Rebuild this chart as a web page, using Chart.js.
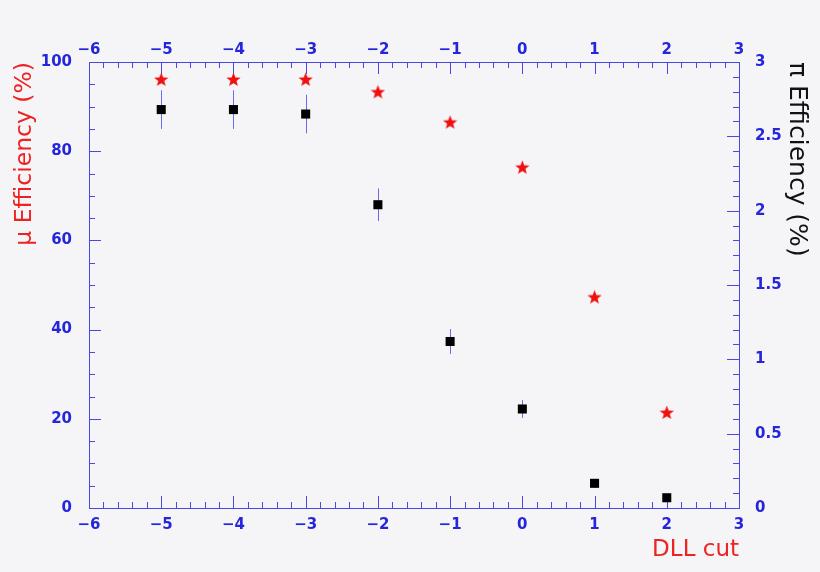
<!DOCTYPE html>
<html>
<head>
<meta charset="utf-8">
<script src="https://cdn.jsdelivr.net/npm/chart.js@4/dist/chart.umd.min.js"></script>
<style>
  html, body { margin: 0; padding: 0; background: #f5f5f7; }
  #wrap { width: 820px; height: 572px; }
</style>
</head>
<body>
<div id="wrap"><canvas id="chart" width="820" height="572"></canvas></div>
<script>
/* DATA */
const dllCuts = [-5, -4, -3, -2, -1, 0, 1, 2];
const muEff = [96.1, 96.1, 96.1, 93.3, 86.5, 76.4, 47.3, 21.4];
const piEff = [2.68, 2.68, 2.65, 2.04, 1.12, 0.666, 0.166, 0.069];
const piErr = [0.13, 0.13, 0.13, 0.11, 0.084, 0.06, 0.03, 0.02];

const AXIS = "#4848e6";
const LABEL = "#2525dc";
const FONT = "DejaVu Sans";

/* filled 5 pointed star as point style */
function makeStar(size, color) {
  const c = document.createElement("canvas");
  c.width = size; c.height = size;
  const g = c.getContext("2d");
  const cx = size / 2, cy = size / 2 + 0.5, R = size / 2, r = R * 0.42;
  g.beginPath();
  for (let i = 0; i < 10; i++) {
    const a = -Math.PI / 2 + i * Math.PI / 5;
    const rr = i % 2 ? r : R;
    g.lineTo(cx + rr * Math.cos(a), cy + rr * Math.sin(a));
  }
  g.closePath();
  g.fillStyle = color;
  g.fill();
  return c;
}
const star = makeStar(15, "#f01010");

const fmt = v => (v < 0 ? "\u2212" + Math.abs(v) : String(v));

/* background */
const bgPlugin = {
  id: "bg",
  beforeDraw(chart) {
    const ctx = chart.ctx;
    ctx.save();
    ctx.fillStyle = "#f5f5f7";
    ctx.fillRect(0, 0, chart.width, chart.height);
    ctx.restore();
  }
};

/* frame + inward ticks, ROOT style */
const framePlugin = {
  id: "frame",
  beforeDatasetsDraw(chart) {
    const { ctx, chartArea: a, scales } = chart;
    ctx.save();
    ctx.strokeStyle = AXIS;
    ctx.lineWidth = 1;
    ctx.strokeRect(a.left + 0.5, a.top + 0.5, a.right - a.left, a.bottom - a.top);

    ctx.beginPath();
    // x ticks, bottom and top
    for (let i = 0; i <= 45; i++) {
      const v = -6 + i * 0.2;
      const px = Math.round(scales.x.getPixelForValue(v)) + 0.5;
      const len = i % 5 === 0 ? 12 : 6;
      ctx.moveTo(px, a.bottom); ctx.lineTo(px, a.bottom - len);
      ctx.moveTo(px, a.top); ctx.lineTo(px, a.top + len);
    }
    // left y ticks
    for (let i = 0; i <= 20; i++) {
      const py = Math.round(scales.y.getPixelForValue(i * 5)) + 0.5;
      const len = i % 4 === 0 ? 12 : 6;
      ctx.moveTo(a.left, py); ctx.lineTo(a.left + len, py);
    }
    // right y ticks
    for (let i = 0; i <= 30; i++) {
      const py = Math.round(scales.y2.getPixelForValue(i * 0.1)) + 0.5;
      const len = i % 5 === 0 ? 12 : 6;
      ctx.moveTo(a.right, py); ctx.lineTo(a.right - len, py);
    }
    ctx.stroke();

    // error bars on pi efficiency
    ctx.strokeStyle = "#6a6aee";
    ctx.beginPath();
    dllCuts.forEach((c, i) => {
      const px = Math.round(scales.x.getPixelForValue(c)) + 0.5;
      ctx.moveTo(px, scales.y2.getPixelForValue(piEff[i] + piErr[i]));
      ctx.lineTo(px, scales.y2.getPixelForValue(piEff[i] - piErr[i]));
    });
    ctx.stroke();
    ctx.restore();
  }
};

function fixSize(prop, size) {
  return scale => { scale[prop] = size; };
}

const tickFont = { family: FONT, size: 15, weight: "bold" };
const noGrid = { display: false, drawTicks: false, tickLength: 0 };

new Chart(document.getElementById("chart"), {
  type: "scatter",
  data: {
    datasets: [
      {
        label: "mu",
        data: dllCuts.map((c, i) => ({ x: c, y: muEff[i] })),
        xAxisID: "x",
        yAxisID: "y",
        pointStyle: star,
        pointRadius: 7
      },
      {
        label: "pi",
        data: dllCuts.map((c, i) => ({ x: c, y: piEff[i] })),
        xAxisID: "x",
        yAxisID: "y2",
        pointStyle: "rect",
        pointRadius: 6.4,
        backgroundColor: "#000",
        borderColor: "#000",
        borderWidth: 0
      }
    ]
  },
  options: {
    responsive: false,
    animation: false,
    devicePixelRatio: 1,
    layout: { padding: 0 },
    plugins: {
      legend: { display: false },
      tooltip: { enabled: false }
    },
    scales: {
      x: {
        type: "linear",
        position: "bottom",
        min: -6, max: 3,
        grid: noGrid,
        border: { display: false },
        ticks: { stepSize: 1, color: LABEL, font: tickFont, padding: 8, maxRotation: 0, callback: fmt },
        title: {
          display: true, text: "DLL cut", align: "end",
          color: "#ee2222", font: { family: FONT, size: 23 },
          padding: { top: 8, bottom: 8 }
        },
        afterFit: fixSize("height", 64)
      },
      x2: {
        type: "linear",
        position: "top",
        min: -6, max: 3,
        grid: noGrid,
        border: { display: false },
        ticks: { stepSize: 1, color: LABEL, font: tickFont, padding: 3, maxRotation: 0, callback: fmt },
        afterFit: fixSize("height", 62)
      },
      y: {
        type: "linear",
        position: "left",
        min: 0, max: 100,
        grid: noGrid,
        border: { display: false },
        ticks: { stepSize: 20, color: LABEL, font: tickFont, padding: 17, callback: fmt },
        title: {
          display: true, text: "\u03bc Efficiency (%)", align: "end",
          color: "#ee2222", font: { family: FONT, size: 23.5 },
          padding: { top: 11, bottom: 11 }
        },
        afterFit: fixSize("width", 89)
      },
      y2: {
        type: "linear",
        position: "right",
        min: 0, max: 3,
        grid: noGrid,
        border: { display: false },
        ticks: { stepSize: 0.5, color: LABEL, font: tickFont, padding: 16, callback: fmt },
        title: {
          display: true, text: "\u03c0 Efficiency (%)", align: "end",
          color: "#111111", font: { family: FONT, size: 25 },
          padding: { top: 9, bottom: 9 }
        },
        afterFit: fixSize("width", 81)
      }
    }
  },
  plugins: [bgPlugin, framePlugin]
});
</script>
</body>
</html>
